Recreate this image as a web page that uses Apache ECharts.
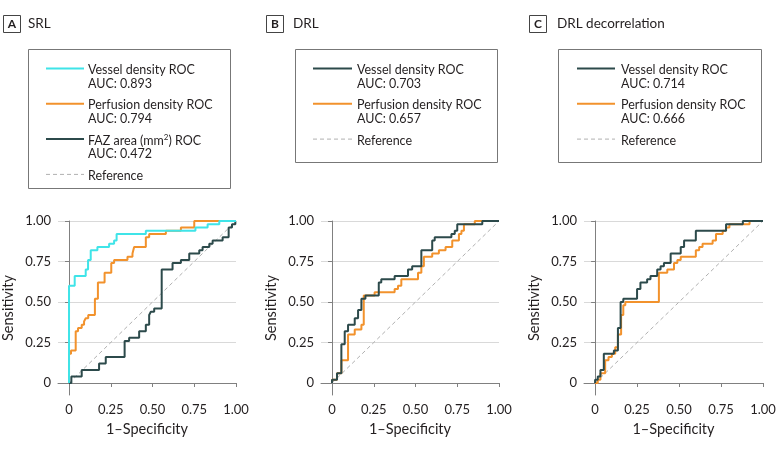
<!DOCTYPE html>
<html><head><meta charset="utf-8">
<script src="https://cdn.jsdelivr.net/npm/echarts@6/dist/echarts.min.js"></script>
<style>html,body{margin:0;padding:0;background:#fff}#c{width:783px;height:450px}</style>
</head><body><div id="c"></div><script>
// ---- text / ticks ----
const tickValues = [0, 0.25, 0.5, 0.75, 1];
const tickLabels = ['0', '0.25', '0.50', '0.75', '1.00'];
const panelLetters = ['A', 'B', 'C'];
const panelTitles = ['SRL', 'DRL', 'DRL decorrelation'];
const xAxisName = '1–Specificity';
const yAxisName = 'Sensitivity';
const legendNamesA = ['Vessel density ROC', 'Perfusion density ROC', 'FAZ area (mm{sup|2}) ROC', 'Reference'];
const aucA = ['AUC: 0.893', 'AUC: 0.794', 'AUC: 0.472'];
const legendNamesB = ['Vessel density ROC', 'Perfusion density ROC', 'Reference'];
const aucB = ['AUC: 0.703', 'AUC: 0.657'];
const legendNamesC = ['Vessel density ROC', 'Perfusion density ROC', 'Reference'];
const aucC = ['AUC: 0.714', 'AUC: 0.666'];

// ---- data (x = 1-specificity, y = sensitivity), steps: horizontal then vertical ----
const refX = [0, 1];
const refY = [0, 1];

const srlVesselX = [0, 0, 0.034, 0.10, 0.114, 0.13, 0.17, 0.24, 0.27, 0.285, 0.46, 0.757, 0.83, 0.90, 1.00];
const srlVesselY = [0, 0.60, 0.66, 0.70, 0.76, 0.82, 0.84, 0.86, 0.88, 0.92, 0.94, 0.96, 0.98, 1.00, 1.00];

const srlPerfX = [0, 0, 0.012, 0.04, 0.054, 0.076, 0.09, 0.10, 0.115, 0.155, 0.173, 0.213, 0.253, 0.27, 0.35, 0.38, 0.39, 0.46, 0.48, 0.58, 0.67, 0.75, 1.00];
const srlPerfY = [0, 0.18, 0.20, 0.32, 0.34, 0.36, 0.38, 0.40, 0.42, 0.52, 0.62, 0.68, 0.74, 0.76, 0.78, 0.80, 0.84, 0.90, 0.92, 0.94, 0.96, 1.00, 1.00];

const srlFazX = [0, 0.014, 0.076, 0.18, 0.22, 0.333, 0.36, 0.42, 0.46, 0.48, 0.49, 0.51, 0.555, 0.62, 0.67, 0.72, 0.78, 0.80, 0.84, 0.86, 0.92, 0.956, 0.976, 0.996, 1.00];
const srlFazY = [0, 0.04, 0.08, 0.12, 0.16, 0.26, 0.28, 0.32, 0.36, 0.42, 0.44, 0.46, 0.70, 0.74, 0.76, 0.80, 0.82, 0.84, 0.86, 0.88, 0.90, 0.96, 0.98, 1.00, 1.00];

const drlVesselX = [0, 0, 0.03, 0.056, 0.076, 0.096, 0.136, 0.156, 0.176, 0.20, 0.28, 0.295, 0.375, 0.455, 0.48, 0.535, 0.60, 0.615, 0.715, 0.735, 0.75, 0.90, 1.00];
const drlVesselY = [0, 0.02, 0.06, 0.24, 0.32, 0.36, 0.40, 0.45, 0.52, 0.54, 0.62, 0.64, 0.66, 0.70, 0.72, 0.82, 0.88, 0.90, 0.92, 0.94, 0.98, 1.00, 1.00];

const drlPerfX = [0, 0, 0.03, 0.056, 0.096, 0.136, 0.176, 0.19, 0.255, 0.375, 0.395, 0.415, 0.515, 0.535, 0.55, 0.60, 0.64, 0.68, 0.72, 0.76, 0.775, 0.79, 0.855, 1.00];
const drlPerfY = [0, 0.02, 0.06, 0.14, 0.30, 0.33, 0.36, 0.54, 0.56, 0.58, 0.60, 0.64, 0.68, 0.72, 0.78, 0.80, 0.82, 0.84, 0.88, 0.92, 0.94, 0.98, 1.00, 1.00];

const decVesselX = [0, 0, 0.016, 0.032, 0.052, 0.112, 0.136, 0.152, 0.168, 0.25, 0.27, 0.31, 0.33, 0.37, 0.39, 0.41, 0.45, 0.51, 0.53, 0.60, 0.78, 0.88, 1.00];
const decVesselY = [0, 0.02, 0.04, 0.08, 0.18, 0.20, 0.34, 0.50, 0.52, 0.58, 0.62, 0.64, 0.66, 0.70, 0.72, 0.74, 0.80, 0.84, 0.88, 0.94, 0.98, 1.00, 1.00];

const decPerfX = [0, 0.016, 0.032, 0.06, 0.08, 0.10, 0.12, 0.136, 0.155, 0.168, 0.18, 0.38, 0.43, 0.47, 0.49, 0.51, 0.60, 0.62, 0.64, 0.70, 0.72, 0.76, 0.78, 0.80, 0.92, 1.00];
const decPerfY = [0, 0.02, 0.06, 0.14, 0.16, 0.18, 0.22, 0.30, 0.42, 0.48, 0.50, 0.68, 0.70, 0.74, 0.76, 0.78, 0.82, 0.84, 0.86, 0.88, 0.92, 0.94, 0.96, 0.98, 1.00, 1.00];

// ---- styling ----
const CYAN = '#3fe4e8', ORANGE = '#f2922c', DARK = '#2c4a4b', REF = '#b0b0b0';
const FONT = 'Lato';
const TXT = '#231f20';

const zip = (xs, ys) => xs.map((x, i) => [x, ys[i]]);

const grids = [
  { left: 58, top: 221, width: 178, height: 174 },
  { left: 321, top: 221, width: 178, height: 174 },
  { left: 584, top: 221, width: 179, height: 174 }
];

const labelFmt = v => { const i = tickValues.findIndex(t => Math.abs(t - v) < 1e-9); return i >= 0 ? tickLabels[i] : ''; };

const xAxes = grids.map((g, i) => ({
  gridIndex: i, type: 'value', min: -0.066, max: 1,
  name: xAxisName, nameLocation: 'middle', nameGap: 27,
  nameTextStyle: { fontFamily: FONT, fontSize: 14.5, color: TXT },
  axisLine: { show: true, lineStyle: { color: '#808080', width: 1 } },
  axisTick: { show: true, length: 4, customValues: tickValues, lineStyle: { color: '#808080' } },
  axisLabel: { customValues: tickValues, formatter: labelFmt, margin: 8, fontFamily: FONT, fontSize: 13, color: TXT },
  splitLine: { show: false }
}));
const yAxes = grids.map((g, i) => ({
  gridIndex: i, type: 'value', min: -0.074, max: 1,
  name: yAxisName, nameLocation: 'middle', nameGap: 42,
  nameTextStyle: { fontFamily: FONT, fontSize: 14.5, color: TXT },
  axisLine: { show: true, lineStyle: { color: '#808080', width: 1 } },
  axisTick: { show: true, length: 4, customValues: tickValues, lineStyle: { color: '#808080' } },
  axisLabel: { customValues: tickValues, formatter: labelFmt, margin: 7, fontFamily: FONT, fontSize: 13, color: TXT },
  splitLine: { show: true, lineStyle: { color: '#d9d9d9', width: 1 } }
}));

function ln(name, idx, xs, ys, color, dashed) {
  return {
    name, type: 'line', xAxisIndex: idx, yAxisIndex: idx,
    data: zip(xs, ys), step: dashed ? false : 'end', symbol: 'none', silent: true,
    lineStyle: dashed ? { color, width: 1, type: [4, 3] } : { color, width: 2 },
    z: dashed ? 1 : 2
  };
}

const series = [
  ln('Reference', 0, refX, refY, REF, true),
  ln('Perfusion density ROC', 0, srlPerfX, srlPerfY, ORANGE),
  ln('FAZ area ROC', 0, srlFazX, srlFazY, DARK),
  ln('Vessel density ROC', 0, srlVesselX, srlVesselY, CYAN),
  ln('Reference', 1, refX, refY, REF, true),
  ln('Perfusion density ROC', 1, drlPerfX, drlPerfY, ORANGE),
  ln('Vessel density ROC', 1, drlVesselX, drlVesselY, DARK),
  ln('Reference', 2, refX, refY, REF, true),
  ln('Perfusion density ROC', 2, decPerfX, decPerfY, ORANGE),
  ln('Vessel density ROC', 2, decVesselX, decVesselY, DARK)
];

// ---- panel titles and legend boxes (chrome) ----
const graphic = [];
const titleBoxes = [
  { bx: 3, tx: 28 }, { bx: 266, tx: 293 }, { bx: 529, tx: 557 }
];
titleBoxes.forEach((t, i) => {
  graphic.push({ type: 'rect', shape: { x: t.bx + 0.5, y: 15.5, width: 17, height: 17 }, style: { fill: '#fff', stroke: '#444', lineWidth: 1 } });
  graphic.push({ type: 'text', style: { text: panelLetters[i], x: t.bx + 9, y: 24.5, align: 'center', verticalAlign: 'middle', font: 'bold 12px ' + FONT, fill: TXT } });
  graphic.push({ type: 'text', style: { text: panelTitles[i], x: t.tx, y: 24, verticalAlign: 'middle', font: '13.5px ' + FONT, fill: TXT } });
});

const legends = [
  { box: [28, 49, 202, 139], lx: [46, 84], tx: 88, names: legendNamesA, aucs: aucA, colors: [CYAN, ORANGE, DARK] },
  { box: [295, 49, 202, 113], lx: [313, 352], tx: 357, names: legendNamesB, aucs: aucB, colors: [DARK, ORANGE] },
  { box: [558, 49, 203, 113], lx: [577, 615], tx: 621, names: legendNamesC, aucs: aucC, colors: [DARK, ORANGE] }
];
legends.forEach(L => {
  graphic.push({ type: 'rect', shape: { x: L.box[0] + 0.5, y: L.box[1] + 0.5, width: L.box[2], height: L.box[3] }, style: { fill: 'none', stroke: '#777', lineWidth: 1 } });
  let y = 70;
  L.names.forEach((nm, k) => {
    const isRef = k === L.names.length - 1;
    graphic.push({ type: 'line', shape: { x1: L.lx[0], y1: y - 1.5, x2: L.lx[1], y2: y - 1.5 },
      style: isRef ? { stroke: REF, lineWidth: 1, lineDash: [4, 3] } : { stroke: L.colors[k], lineWidth: 2 } });
    graphic.push({ type: 'text', style: { text: nm, x: L.tx, y: y, verticalAlign: 'middle', font: '12.5px ' + FONT, fill: TXT,
      rich: { sup: { fontSize: 8, verticalAlign: 'top', padding: [0, 0, 6, 0], fontFamily: FONT, fill: TXT } } } });
    if (!isRef) {
      graphic.push({ type: 'text', style: { text: L.aucs[k], x: L.tx, y: y + 13.8, verticalAlign: 'middle', font: '12.5px ' + FONT, fill: TXT } });
    }
    y += 35.3;
  });
});

const chart = echarts.init(document.getElementById('c'), null, { renderer: 'canvas' });
chart.setOption({
  animation: false,
  backgroundColor: '#fff',
  textStyle: { fontFamily: FONT },
  grid: grids,
  xAxis: xAxes,
  yAxis: yAxes,
  series,
  graphic
});
</script></body></html>
